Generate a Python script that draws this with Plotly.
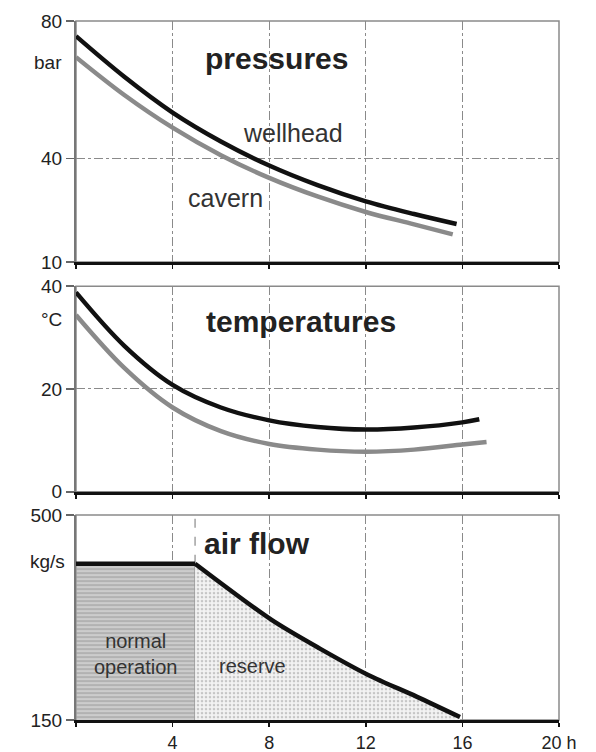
import plotly.graph_objects as go

# ---------------- data ----------------
# pressures (bar) vs time (h)
p_well_t = [0, 2, 4, 6, 8, 10, 12, 14, 15.76]
p_well_v = [75.6, 63.8, 53.4, 45.0, 38.0, 32.3, 27.6, 23.9, 21.0]
p_cav_t = [0, 2, 4, 6, 8, 10, 12, 14, 15.6]
p_cav_v = [69.5, 58.5, 49.0, 41.0, 34.4, 29.0, 24.5, 20.9, 18.0]

# temperatures (°C)
t_well_t = [0, 2, 4, 6, 8, 10, 12, 14, 16, 16.7]
t_well_v = [38.8, 28.4, 20.8, 16.4, 13.9, 12.6, 12.1, 12.5, 13.5, 14.1]
t_cav_t = [0, 2, 4, 6, 8, 10, 12, 14, 16, 17.0]
t_cav_v = [34.4, 24.1, 16.4, 11.8, 9.3, 8.2, 7.8, 8.2, 9.2, 9.7]

# air flow (kg/s)
flow_t = [0, 4.93, 8.1, 10.1, 12.1, 14.1, 15.9]
flow_v = [417, 417, 321, 272, 227, 190, 155]
normal_end = 4.93

x_tickvals = [0, 4, 8, 12, 16, 20]
x_ticktext = ["", "4", "8", "12", "16", "20 h"]

FONT = "Liberation Sans"
TXT = "#222222"
GRAYLINE = "#8a8a8a"

fig = go.Figure()

# ---- pressures ----
fig.add_trace(go.Scatter(x=p_cav_t, y=p_cav_v, mode="lines",
                         line=dict(color=GRAYLINE, width=4.5, shape="spline", smoothing=1.0),
                         xaxis="x", yaxis="y", showlegend=False))
fig.add_trace(go.Scatter(x=p_well_t, y=p_well_v, mode="lines",
                         line=dict(color="#111111", width=4.5, shape="spline", smoothing=1.0),
                         xaxis="x", yaxis="y", showlegend=False))

# ---- temperatures ----
fig.add_trace(go.Scatter(x=t_cav_t, y=t_cav_v, mode="lines",
                         line=dict(color=GRAYLINE, width=4.5, shape="spline", smoothing=1.0),
                         xaxis="x2", yaxis="y2", showlegend=False))
fig.add_trace(go.Scatter(x=t_well_t, y=t_well_v, mode="lines",
                         line=dict(color="#111111", width=4.5, shape="spline", smoothing=1.0),
                         xaxis="x2", yaxis="y2", showlegend=False))

# ---- air flow ----
base = 150
norm_idx = [i for i, t in enumerate(flow_t) if t <= normal_end]
res_idx = [i for i, t in enumerate(flow_t) if t >= normal_end]

norm_x = [flow_t[0]] + [flow_t[i] for i in norm_idx] + [normal_end]
norm_y = [base] + [flow_v[i] for i in norm_idx] + [base]
fig.add_trace(go.Scatter(x=norm_x, y=norm_y, mode="lines", fill="toself",
                         fillpattern=dict(shape="-", fgcolor="#8c8c8c", bgcolor="#cccccc", size=4, solidity=0.4),
                         line=dict(color="#999999", width=1.5),
                         xaxis="x3", yaxis="y3", showlegend=False, hoverinfo="skip"))

# reserve area: under the declining curve, down to the 150 baseline
res_t = [flow_t[i] for i in res_idx]
res_v = [flow_v[i] for i in res_idx]
fig.add_trace(go.Scatter(x=[res_t[0], res_t[-1]], y=[base, base], mode="lines",
                         line=dict(color="rgba(0,0,0,0)", width=0),
                         xaxis="x3", yaxis="y3", showlegend=False, hoverinfo="skip"))
fig.add_trace(go.Scatter(x=res_t, y=res_v, mode="lines", fill="tonexty",
                         fillpattern=dict(shape=".", fgcolor="#999999", bgcolor="#f3f3f3", size=4, solidity=0.35),
                         line=dict(color="rgba(0,0,0,0)", width=0, shape="spline", smoothing=0.8),
                         xaxis="x3", yaxis="y3", showlegend=False, hoverinfo="skip"))

# dashed marker at end of normal operation
fig.add_trace(go.Scatter(x=[normal_end, normal_end], y=[flow_v[1], 500], mode="lines",
                         line=dict(color=GRAYLINE, width=1.2, dash="dash"),
                         xaxis="x3", yaxis="y3", showlegend=False, hoverinfo="skip"))
# flow curve: flat part + smooth decline
fig.add_trace(go.Scatter(x=[flow_t[i] for i in norm_idx], y=[flow_v[i] for i in norm_idx], mode="lines",
                         line=dict(color="#111111", width=4.5),
                         xaxis="x3", yaxis="y3", showlegend=False))
fig.add_trace(go.Scatter(x=res_t, y=res_v, mode="lines",
                         line=dict(color="#111111", width=4.5, shape="spline", smoothing=0.8),
                         xaxis="x3", yaxis="y3", showlegend=False))

# ---- layout ----
d1 = [0.6554, 1.0]
d2 = [0.3265, 0.6206]
d3 = [0.0, 0.2931]

def xax(anchor, show_labels):
    return dict(range=[0, 20], anchor=anchor, tickvals=x_tickvals,
                ticktext=x_ticktext if show_labels else [""] * 6,
                showticklabels=show_labels, ticks="outside", ticklen=4, tickcolor="#111", tickwidth=1.5,
                showline=True, linecolor="#111111", linewidth=3,
                showgrid=True, gridcolor=GRAYLINE, griddash="dashdot", gridwidth=1,
                zeroline=False, tickfont=dict(family=FONT, size=18, color=TXT), fixedrange=True)

def yax(domain, rng, ticks, grid):
    return dict(domain=domain, range=rng, tickvals=ticks, ticks="outside", ticklen=8, tickcolor="#666",
                tickwidth=1.5, showline=True, linecolor="#777777", linewidth=2,
                showgrid=grid, gridcolor=GRAYLINE, griddash="dashdot", gridwidth=1,
                zeroline=False, tickfont=dict(family=FONT, size=19, color=TXT), fixedrange=True)

fig.update_layout(
    width=596, height=752,
    margin=dict(l=76, r=37, t=21, b=32, autoexpand=False),
    paper_bgcolor="white", plot_bgcolor="white",
    xaxis=xax("y", False),
    yaxis=yax(d1, [10, 80], [10, 40, 80], True),
    xaxis2=xax("y2", False),
    yaxis2=yax(d2, [0, 40], [0, 20, 40], True),
    xaxis3=xax("y3", True),
    yaxis3=yax(d3, [150, 500], [150, 500], False),
)
fig.update_layout(xaxis2=dict(matches="x"), xaxis3=dict(matches="x"))

# frames (top / right borders)
for xr, yr in [("x", "y"), ("x2", "y2"), ("x3", "y3")]:
    fig.add_shape(type="rect", xref=xr + " domain", yref=yr + " domain", x0=0, x1=1, y0=0, y1=1,
                  line=dict(color=GRAYLINE, width=1.5), layer="below")

ann = []
def A(text, x, y, xr, yr, size, bold=False, color=TXT, **kw):
    ann.append(dict(text=("<b>%s</b>" % text) if bold else text, x=x, y=y, xref=xr, yref=yr, showarrow=False,
                    font=dict(family=FONT, size=size, color=color), **kw))

A("pressures", 8.3, 69.2, "x", "y", 30, bold=True)
A("wellhead", 9.0, 47.4, "x", "y", 25, color="#333")
A("cavern", 6.2, 28.7, "x", "y", 25, color="#333")
A("temperatures", 9.3, 33.2, "x2", "y2", 30, bold=True)
A("air flow", 7.5, 452, "x3", "y3", 30, bold=True)
A("normal<br>operation", 2.45, 262, "x3", "y3", 20, color="#333")
A("reserve", 7.3, 242, "x3", "y3", 20, color="#333")
# unit labels
A("bar", 0, 68, "paper", "y", 19, xanchor="right", xshift=-12)
A("°C", 0, 33.6, "paper", "y2", 19, xanchor="right", xshift=-12)
A("kg/s", 0, 420, "paper", "y3", 19, xanchor="right", xshift=-9)

fig.update_layout(annotations=ann)

fig.write_html("out.html", config={"displayModeBar": False, "staticPlot": True},
               post_script="document.body.style.margin='0';document.body.style.padding='0';")
